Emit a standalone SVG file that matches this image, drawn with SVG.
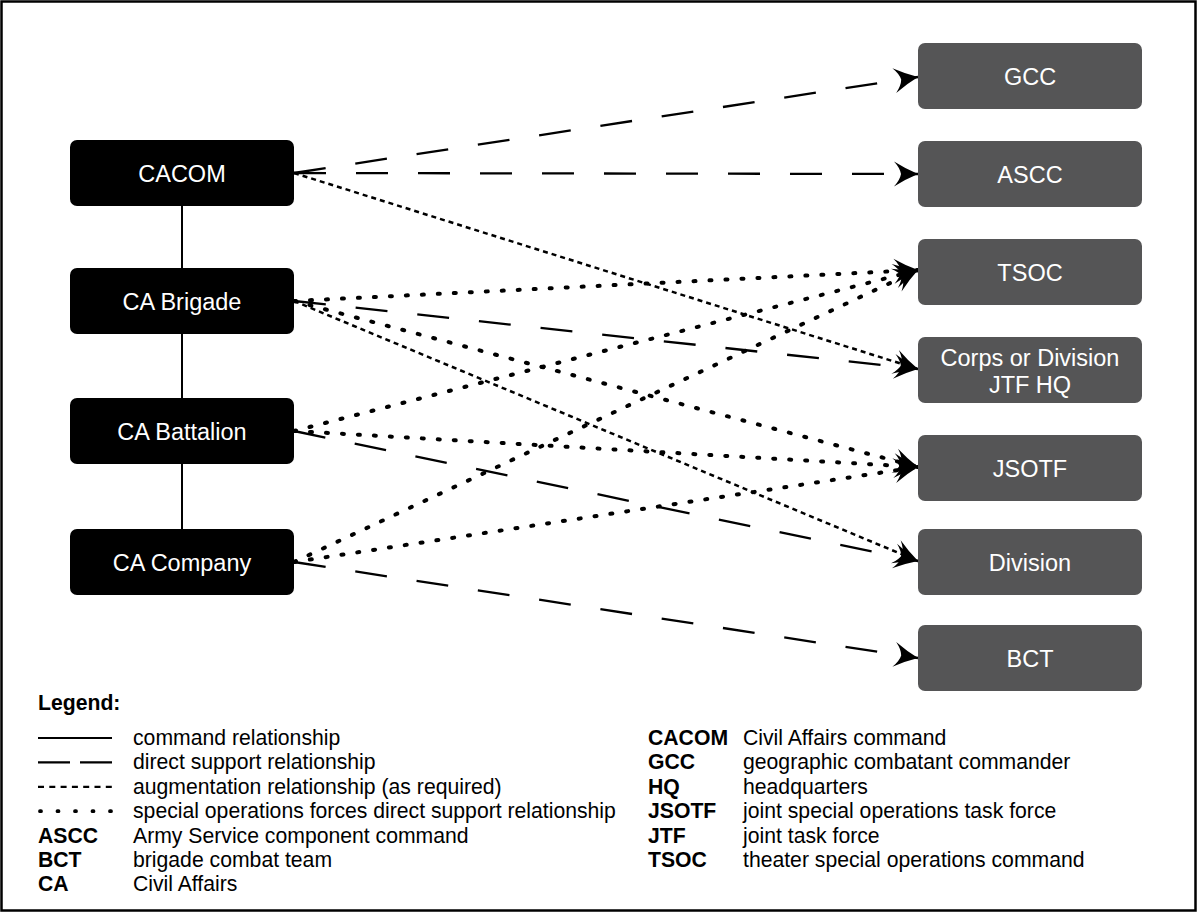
<svg xmlns="http://www.w3.org/2000/svg" width="1197" height="912" viewBox="0 0 1197 912">
<defs>
<style>
.frame{fill:#fff;stroke:#000;stroke-width:2.5}
.lnode{fill:#000}
.rnode{fill:#555556}
.nt{font-family:"Liberation Sans",Arial,sans-serif;font-size:23.5px;fill:#fff;text-anchor:middle}
.cmd{stroke:#000;stroke-width:2;fill:none}
.ds{stroke:#000;stroke-width:2.3;fill:none;stroke-dasharray:32 30}
.aug{stroke:#000;stroke-width:2.5;fill:none;stroke-dasharray:5 4}
.sof{stroke:#000;stroke-width:4;fill:none;stroke-dasharray:2 14;stroke-linecap:round}
.lg{font-family:"Liberation Sans",Arial,sans-serif;font-size:21.2px;fill:#000}
.lb{font-family:"Liberation Sans",Arial,sans-serif;font-size:21.2px;font-weight:bold;fill:#000}
</style>
<marker id="arr" markerUnits="userSpaceOnUse" markerWidth="28" markerHeight="28" viewBox="-26 -14 28 28" refX="0" refY="0" orient="auto">
<path d="M0,0 Q-12,-5 -24,-12.5 Q-18,-6 -17,0 Q-18,6 -24,12.5 Q-12,5 0,0 Z" fill="#000"/>
</marker>
</defs>
<rect class="frame" x="1.5" y="1.5" width="1194" height="909"/>

<g id="connectors">
<line class="cmd" x1="182" y1="206" x2="182" y2="268"/>
<line class="cmd" x1="182" y1="334" x2="182" y2="398"/>
<line class="cmd" x1="182" y1="464" x2="182" y2="529"/>
<line class="ds" x1="294" y1="173" x2="918" y2="77" marker-end="url(#arr)"/>
<line class="ds" x1="294" y1="173" x2="918" y2="174" marker-end="url(#arr)"/>
<line class="aug" x1="294" y1="173" x2="918" y2="369" marker-end="url(#arr)"/>
<line class="sof" x1="294" y1="301" x2="918" y2="270" marker-end="url(#arr)"/>
<line class="ds" x1="294" y1="301" x2="918" y2="369" marker-end="url(#arr)"/>
<line class="sof" x1="294" y1="301" x2="918" y2="467" marker-end="url(#arr)"/>
<line class="aug" x1="294" y1="301" x2="918" y2="561" marker-end="url(#arr)"/>
<line class="sof" x1="294" y1="431" x2="918" y2="270" marker-end="url(#arr)"/>
<line class="sof" x1="294" y1="431" x2="918" y2="467" marker-end="url(#arr)"/>
<line class="ds" x1="294" y1="431" x2="918" y2="561" marker-end="url(#arr)"/>
<line class="sof" x1="294" y1="562" x2="918" y2="270" marker-end="url(#arr)"/>
<line class="sof" x1="294" y1="562" x2="918" y2="467" marker-end="url(#arr)"/>
<line class="ds" x1="294" y1="562" x2="918" y2="658" marker-end="url(#arr)"/>
</g>

<g id="cacom"><rect class="lnode" x="70" y="140" width="224" height="66" rx="7"/><text class="nt" x="182" y="181.5">CACOM</text></g>
<g id="ca-brigade"><rect class="lnode" x="70" y="268" width="224" height="66" rx="7"/><text class="nt" x="182" y="309.5">CA Brigade</text></g>
<g id="ca-battalion"><rect class="lnode" x="70" y="398" width="224" height="66" rx="7"/><text class="nt" x="182" y="439.5">CA Battalion</text></g>
<g id="ca-company"><rect class="lnode" x="70" y="529" width="224" height="66" rx="7"/><text class="nt" x="182" y="570.5">CA Company</text></g>

<g id="gcc"><rect class="rnode" x="918" y="43" width="224" height="66" rx="7"/><text class="nt" x="1030" y="84.5">GCC</text></g>
<g id="ascc"><rect class="rnode" x="918" y="141" width="224" height="66" rx="7"/><text class="nt" x="1030" y="182.5">ASCC</text></g>
<g id="tsoc"><rect class="rnode" x="918" y="239" width="224" height="66" rx="7"/><text class="nt" x="1030" y="280.5">TSOC</text></g>
<g id="corps"><rect class="rnode" x="918" y="337" width="224" height="66" rx="7"/><text class="nt" x="1030" y="365.5">Corps or Division</text><text class="nt" x="1030" y="392.5">JTF HQ</text></g>
<g id="jsotf"><rect class="rnode" x="918" y="435" width="224" height="66" rx="7"/><text class="nt" x="1030" y="476.5">JSOTF</text></g>
<g id="division"><rect class="rnode" x="918" y="529" width="224" height="66" rx="7"/><text class="nt" x="1030" y="570.5">Division</text></g>
<g id="bct"><rect class="rnode" x="918" y="625" width="224" height="66" rx="7"/><text class="nt" x="1030" y="666.5">BCT</text></g>

<g id="legend">
<text class="lb" x="38" y="710">Legend:</text>
<line class="cmd" x1="38" y1="738" x2="112" y2="738"/>
<line x1="38" y1="762.4" x2="112" y2="762.4" stroke="#000" stroke-width="2.2" stroke-dasharray="32 10"/>
<line x1="38" y1="786.8" x2="112" y2="786.8" stroke="#000" stroke-width="2.2" stroke-dasharray="6 5.3"/>
<line x1="40" y1="811.2" x2="112" y2="811.2" stroke="#000" stroke-width="3.8" stroke-dasharray="1 16.5" stroke-linecap="round"/>
<text class="lg" x="133" y="745">command relationship</text>
<text class="lg" x="133" y="769.4">direct support relationship</text>
<text class="lg" x="133" y="793.8">augmentation relationship (as required)</text>
<text class="lg" x="133" y="818.2">special operations forces direct support relationship</text>
<text class="lb" x="38" y="842.6">ASCC</text><text class="lg" x="133" y="842.6">Army Service component command</text>
<text class="lb" x="38" y="867">BCT</text><text class="lg" x="133" y="867">brigade combat team</text>
<text class="lb" x="38" y="891.4">CA</text><text class="lg" x="133" y="891.4">Civil Affairs</text>
<text class="lb" x="648" y="745">CACOM</text><text class="lg" x="743" y="745">Civil Affairs command</text>
<text class="lb" x="648" y="769.4">GCC</text><text class="lg" x="743" y="769.4">geographic combatant commander</text>
<text class="lb" x="648" y="793.8">HQ</text><text class="lg" x="743" y="793.8">headquarters</text>
<text class="lb" x="648" y="818.2">JSOTF</text><text class="lg" x="743" y="818.2">joint special operations task force</text>
<text class="lb" x="648" y="842.6">JTF</text><text class="lg" x="743" y="842.6">joint task force</text>
<text class="lb" x="648" y="867">TSOC</text><text class="lg" x="743" y="867">theater special operations command</text>
</g>
</svg>
